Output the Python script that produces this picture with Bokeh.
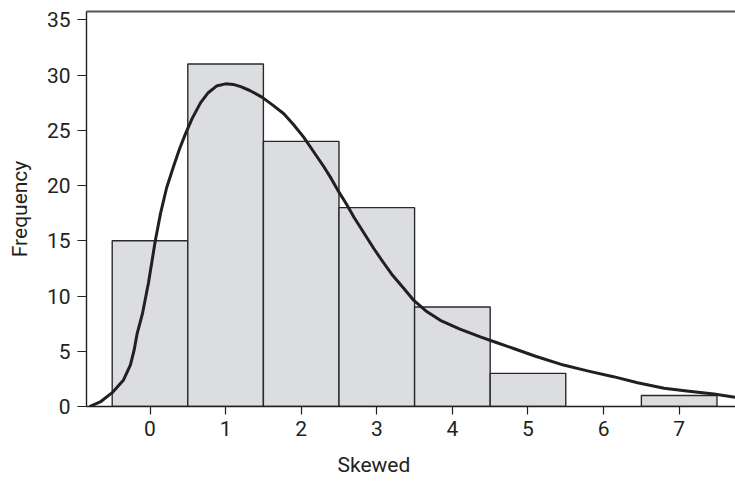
from bokeh.plotting import figure
from bokeh.models import Range1d, LinearAxis, FixedTicker, ColumnDataSource, Title
from bokeh.embed import file_html
from bokeh.resources import INLINE

# Histogram data
bin_centers = [0, 1, 2, 3, 4, 5, 7]
counts = [15, 31, 24, 18, 9, 3, 1]

# Fitted density curve
curve_x = [-0.80, -0.65, -0.50, -0.35, -0.26, -0.21, -0.17, -0.10, -0.02, 0.07, 0.14, 0.22, 0.31,
           0.39, 0.47, 0.56, 0.67, 0.77, 0.88, 1.00, 1.10, 1.20, 1.32, 1.48, 1.62, 1.77, 1.90,
           2.03, 2.16, 2.30, 2.40, 2.50, 2.60, 2.70, 2.83, 2.96, 3.08, 3.20, 3.35, 3.49, 3.65,
           3.84, 4.10, 4.37, 4.60, 4.81, 5.10, 5.47, 5.80, 6.13, 6.45, 6.80, 7.10, 7.46, 7.74]
curve_y = [0.0, 0.45, 1.25, 2.4, 3.75, 5.1, 6.6, 8.4, 11.2, 15.0, 17.5, 19.8, 21.7,
           23.3, 24.7, 26.1, 27.5, 28.4, 29.0, 29.2, 29.15, 28.95, 28.6, 28.0, 27.3, 26.5, 25.5,
           24.4, 23.1, 21.7, 20.6, 19.4, 18.3, 17.1, 15.7, 14.3, 13.1, 11.95, 10.75, 9.6, 8.65,
           7.8, 7.0, 6.3, 5.75, 5.25, 4.55, 3.75, 3.2, 2.7, 2.15, 1.65, 1.4, 1.13, 0.83]

x_ticks = [0, 1, 2, 3, 4, 5, 6, 7]
y_ticks = [0, 5, 10, 15, 20, 25, 30, 35]
x_title = "Skewed"
y_title = "Frequency"

FONT = "Roboto"
INK = "#231f20"

p = figure(width=735, height=489, output_backend="svg", toolbar_location=None,
           x_range=Range1d(-0.84, 7.745), y_range=Range1d(0, 35.75),
           min_border_left=86, min_border_right=0, min_border_top=11, min_border_bottom=82)
p.outline_line_color = None
p.background_fill_color = "white"
p.border_fill_color = "white"
p.xgrid.visible = False
p.ygrid.visible = False

src = ColumnDataSource(dict(left=[c - 0.5 for c in bin_centers],
                            right=[c + 0.5 for c in bin_centers],
                            top=counts, bottom=[0] * len(counts)))
p.quad(left="left", right="right", top="top", bottom="bottom", source=src,
       fill_color="#dcdde0", line_color="#2a2a2a", line_width=1.4)

p.line(curve_x, curve_y, line_color=INK, line_width=3, line_join="round")

for ax in (p.xaxis[0], p.yaxis[0]):
    ax.axis_line_color = INK
    ax.axis_line_width = 1.4
    ax.major_tick_line_color = INK
    ax.major_tick_line_width = 1.2
    ax.minor_tick_line_color = None
    ax.major_tick_in = 0
    ax.major_label_text_font = FONT
    ax.major_label_text_font_size = "21px"
    ax.major_label_text_color = INK
    ax.axis_label_text_font = FONT
    ax.axis_label_text_font_size = "21px"
    ax.axis_label_text_font_style = "normal"
    ax.axis_label_text_color = INK

p.xaxis[0].ticker = FixedTicker(ticks=x_ticks)
p.yaxis[0].ticker = FixedTicker(ticks=y_ticks)
p.yaxis[0].axis_label = y_title
p.xaxis[0].major_tick_out = 8
p.yaxis[0].major_tick_out = 9
p.xaxis[0].major_label_standoff = 6
p.yaxis[0].major_label_standoff = 7
p.yaxis[0].axis_label_standoff = 12

# x title sits left of the frame centre in the reference (its plot was cropped on the right)
p.add_layout(Title(text=x_title, align="left", offset=251, standoff=25,
                   text_font=FONT, text_font_size="21px", text_color=INK,
                   text_font_style="normal"), "below")

top_axis = LinearAxis(ticker=FixedTicker(ticks=[]), axis_line_color="#555555",
                      axis_line_width=2, major_tick_line_color=None,
                      minor_tick_line_color=None)
p.add_layout(top_axis, "above")

open("out.html", "w").write(file_html(p, INLINE))
